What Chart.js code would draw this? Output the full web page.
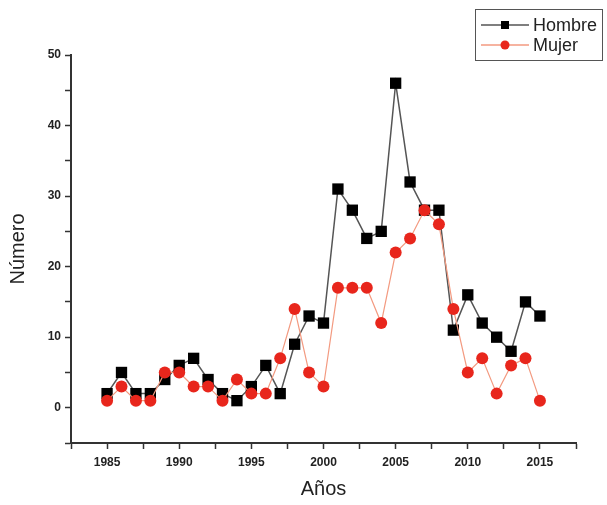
<!DOCTYPE html>
<html lang="es">
<head>
  <meta charset="UTF-8" />
  <title>Número por año</title>
  <script src="https://cdn.jsdelivr.net/npm/chart.js"></script>
  <style>
    body { margin: 0; background: #fff; font-family: "Liberation Sans", Arial, sans-serif; }
    .wrap { position: relative; width: 607px; height: 505px; }
    .legend {
      position: absolute; left: 475px; top: 9px; width: 128px; height: 52px;
      border: 1.5px solid #555; box-sizing: border-box; background: #fff;
      font-size: 18px; color: #222;
    }
    .legend div { position: absolute; left: 5px; height: 20px; line-height: 20px; white-space: nowrap; }
    .legend canvas { vertical-align: middle; margin-top: -3px; }
  </style>
</head>
<body>
  <div class="wrap">
    <canvas id="chart" width="607" height="505"></canvas>
    <div class="legend">
      <div style="top:5px"><canvas id="lgH" width="52" height="14"></canvas>Hombre</div>
      <div style="top:25px"><canvas id="lgM" width="52" height="14"></canvas>Mujer</div>
    </div>
  </div>

  <script>
    const years = [1985, 1986, 1987, 1988, 1989, 1990, 1991, 1992, 1993, 1994, 1995, 1996, 1997, 1998, 1999, 2000,
                   2001, 2002, 2003, 2004, 2005, 2006, 2007, 2008, 2009, 2010, 2011, 2012, 2013, 2014, 2015];
    const hombre = [2, 5, 2, 2, 4, 6, 7, 4, 2, 1, 3, 6, 2, 9, 13, 12, 31, 28, 24, 25, 46, 32, 28, 28, 11, 16, 12, 10, 8, 15, 13];
    const mujer = [1, 3, 1, 1, 5, 5, 3, 3, 1, 4, 2, 2, 7, 14, 5, 3, 17, 17, 17, 12, 22, 24, 28, 26, 14, 5, 7, 2, 6, 7, 1];

    const lineH = '#555555', markH = '#000000';
    const lineM = '#f39a80', markM = '#e8261c';

    // little line + marker swatch for the legend box
    function legendMark(id, line, mark, square) {
      const c = document.getElementById(id).getContext('2d');
      c.strokeStyle = line; c.lineWidth = 1.5;
      c.beginPath(); c.moveTo(0, 7); c.lineTo(48, 7); c.stroke();
      c.fillStyle = mark;
      c.beginPath();
      if (square) c.rect(20, 3, 8, 8); else c.arc(24, 7, 4.5, 0, Math.PI * 2);
      c.fill();
    }
    legendMark('lgH', lineH, markH, true);
    legendMark('lgM', lineM, markM, false);

    const axisColor = '#333333';
    const tickFont = { family: '"Liberation Sans", Arial, sans-serif', size: 12, weight: 'bold' };
    const titleFont = { family: '"Liberation Sans", Arial, sans-serif', size: 20 };

    new Chart(document.getElementById('chart').getContext('2d'), {
      type: 'line',
      data: {
        datasets: [
          {
            label: 'Hombre',
            data: years.map((y, i) => ({ x: y, y: hombre[i] })),
            borderColor: lineH, borderWidth: 1.5,
            pointStyle: 'rect', pointRadius: 8, pointHoverRadius: 8,
            pointBackgroundColor: markH, pointBorderWidth: 0,
            order: 1
          },
          {
            label: 'Mujer',
            data: years.map((y, i) => ({ x: y, y: mujer[i] })),
            borderColor: lineM, borderWidth: 1.2,
            pointStyle: 'circle', pointRadius: 6, pointHoverRadius: 6,
            pointBackgroundColor: markM, pointBorderWidth: 0,
            order: 0
          }
        ]
      },
      options: {
        responsive: false,
        animation: false,
        layout: { padding: { top: 55, right: 31, left: 0, bottom: 0 } },
        plugins: { legend: { display: false }, tooltip: { enabled: false } },
        scales: {
          x: {
            type: 'linear', min: 1982.5, max: 2017.5,
            afterFit: s => { s.height = 62; },
            border: { color: axisColor, width: 2 },
            grid: { drawOnChartArea: false, color: axisColor, tickLength: 6, tickWidth: 1.5 },
            ticks: {
              stepSize: 2.5, color: '#222', font: tickFont, padding: 6, maxRotation: 0, autoSkip: false,
              callback: v => (v % 5 === 0 ? String(v) : '')
            },
            title: { display: true, text: 'Años', color: '#222', font: titleFont, padding: { top: 8 } }
          },
          y: {
            min: -5, max: 50,
            afterFit: s => { s.width = 71; },
            border: { color: axisColor, width: 2 },
            grid: { drawOnChartArea: false, color: axisColor, tickLength: 6, tickWidth: 1.5 },
            ticks: {
              stepSize: 5, color: '#222', font: tickFont, padding: 4,
              callback: v => (v >= 0 && v % 10 === 0 ? String(v) : '')
            },
            title: { display: true, text: 'Número', color: '#222', font: titleFont, padding: { top: 6, bottom: 6 } }
          }
        }
      }
    });
  </script>
</body>
</html>
